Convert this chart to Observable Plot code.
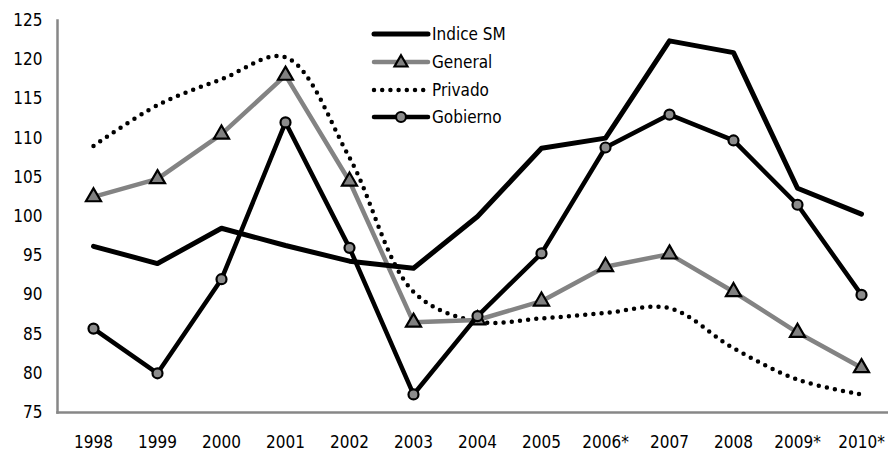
<!DOCTYPE html>
<html>
<head>
<meta charset="utf-8">
<script src="https://cdn.jsdelivr.net/npm/d3@7"></script>
<script src="https://cdn.jsdelivr.net/npm/@observablehq/plot@0.6"></script>
<style>
  html, body { margin: 0; padding: 0; background: #fff; }
  #wrap { position: relative; width: 888px; height: 453px; }
  #legend { position: absolute; left: 0; top: 0; pointer-events: none; }
  text { font-family: "DejaVu Sans Condensed", "DejaVu Sans", sans-serif; }
</style>
</head>
<body>
<div id="wrap"></div>
<script>
const years = ["1998","1999","2000","2001","2002","2003","2004","2005","2006*","2007","2008","2009*","2010*"];
const indiceSM = [96.2, 94.0, 98.5, 96.3, 94.3, 93.4, 100.0, 108.7, 110.0, 122.4, 120.9, 103.6, 100.3];
const general  = [102.5, 104.8, 110.5, 118.0, 104.5, 86.5, 86.8, 89.2, 93.6, 95.2, 90.4, 85.2, 80.7];
const privado  = [109.0, 114.2, 117.5, 120.3, 107.5, 90.4, 86.6, 87.0, 87.7, 88.3, 83.2, 79.2, 77.3];
const gobierno = [85.7, 80.0, 92.0, 112.0, 96.0, 77.3, 87.3, 95.3, 108.8, 113.0, 109.7, 101.5, 90.0];
const yTicks = [75, 80, 85, 90, 95, 100, 105, 110, 115, 120, 125];
const seriesNames = ["Indice SM", "General", "Privado", "Gobierno"];

const rows = (vals) => years.map((y, i) => ({year: y, value: vals[i]}));
const dSM = rows(indiceSM), dGen = rows(general), dPriv = rows(privado), dGob = rows(gobierno);

const font = '"DejaVu Sans Condensed", "DejaVu Sans", sans-serif';

const chart = Plot.plot({
  width: 888,
  height: 453,
  marginLeft: 57,
  marginRight: 0,
  marginTop: 20,
  marginBottom: 41,
  style: {fontFamily: font, fontSize: "17px", color: "#000", background: "#fff", overflow: "visible"},
  x: {type: "point", domain: years, range: [90, 863], padding: 0, label: null},
  y: {domain: [75, 125], label: null},
  marks: [
    Plot.frame({anchor: "left", stroke: "#878787", strokeWidth: 2.5, strokeOpacity: 1}),
    Plot.frame({anchor: "bottom", stroke: "#878787", strokeWidth: 2.5, strokeOpacity: 1}),
    Plot.axisY({ticks: yTicks, tickSize: 0, tickPadding: 15, tickFormat: d => String(d), fontSize: 17}),
    Plot.axisX({tickSize: 0, tickPadding: 23, fontSize: 17}),
    Plot.line(dPriv, {x: "year", y: "value", stroke: "#000", strokeWidth: 4.5, strokeDasharray: "0 8.2", strokeLinecap: "round", curve: "catmull-rom"}),
    Plot.line(dGen, {x: "year", y: "value", stroke: "#838383", strokeWidth: 4.5}),
    Plot.dot(dGen, {x: "year", y: "value", symbol: "triangle", r: 5.6, fill: "#808080", stroke: "#000", strokeWidth: 2.2}),
    Plot.line(dSM, {x: "year", y: "value", stroke: "#000", strokeWidth: 5}),
    Plot.line(dGob, {x: "year", y: "value", stroke: "#000", strokeWidth: 4.5}),
    Plot.dot(dGob, {x: "year", y: "value", r: 5, fill: "#8c8c8c", stroke: "#000", strokeWidth: 2.2})
  ]
});

const wrap = document.getElementById("wrap");
wrap.appendChild(chart);

// Legend overlay
const ns = "http://www.w3.org/2000/svg";
const leg = document.createElementNS(ns, "svg");
leg.setAttribute("id", "legend");
leg.setAttribute("width", 888);
leg.setAttribute("height", 453);
const rowsY = [34, 62, 90, 117];
const x1 = 374, x2 = 428, tx = 432;
seriesNames.forEach((name, i) => {
  const y = rowsY[i];
  const line = document.createElementNS(ns, "line");
  line.setAttribute("x1", x1); line.setAttribute("x2", x2);
  line.setAttribute("y1", y); line.setAttribute("y2", y);
  line.setAttribute("stroke-linecap", "round");
  if (i === 0) { line.setAttribute("stroke", "#000"); line.setAttribute("stroke-width", 5); }
  if (i === 1) { line.setAttribute("stroke", "#838383"); line.setAttribute("stroke-width", 4.5); }
  if (i === 2) { line.setAttribute("stroke", "#000"); line.setAttribute("stroke-width", 4.5); line.setAttribute("stroke-dasharray", "0 8.2"); }
  if (i === 3) { line.setAttribute("stroke", "#000"); line.setAttribute("stroke-width", 4.5); }
  leg.appendChild(line);
  const cx = (x1 + x2) / 2;
  if (i === 1) {
    const s = 6.5;
    const h = s * Math.sqrt(3);
    const p = document.createElementNS(ns, "path");
    p.setAttribute("d", `M${cx},${y - h * 0.6}L${cx + s},${y + h * 0.4}L${cx - s},${y + h * 0.4}Z`);
    p.setAttribute("fill", "#808080"); p.setAttribute("stroke", "#000"); p.setAttribute("stroke-width", 2.2);
    leg.appendChild(p);
  }
  if (i === 3) {
    const c = document.createElementNS(ns, "circle");
    c.setAttribute("cx", cx); c.setAttribute("cy", y); c.setAttribute("r", 5);
    c.setAttribute("fill", "#8c8c8c"); c.setAttribute("stroke", "#000"); c.setAttribute("stroke-width", 2.2);
    leg.appendChild(c);
  }
  const t = document.createElementNS(ns, "text");
  t.setAttribute("x", tx); t.setAttribute("y", y); t.setAttribute("dy", "0.35em");
  t.setAttribute("font-size", 17);
  t.setAttribute("fill", "#000");
  t.setAttribute("font-family", font);
  t.textContent = name;
  leg.appendChild(t);
});
wrap.appendChild(leg);
</script>
</body>
</html>
